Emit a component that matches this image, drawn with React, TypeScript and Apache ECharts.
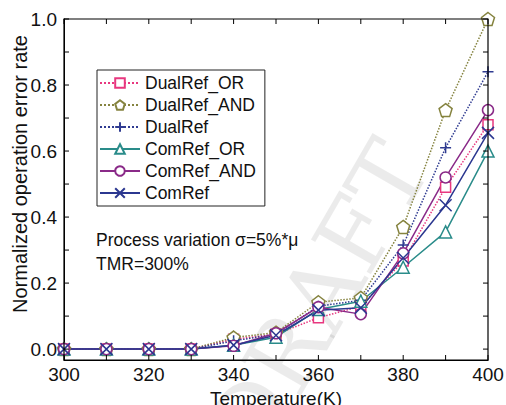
import React, { useEffect, useRef } from "react";
import * as echarts from "echarts";

const temps = [300, 310, 320, 330, 340, 350, 360, 370, 380, 390, 400];
const dualRefOR = [0, 0, 0, 0, 0.03, 0.045, 0.095, 0.13, 0.267, 0.49, 0.68];
const dualRefAND = [0, 0, 0, 0, 0.035, 0.05, 0.142, 0.155, 0.37, 0.724, 1.0];
const dualRef = [0, 0, 0, 0, 0.025, 0.045, 0.13, 0.148, 0.315, 0.61, 0.84];
const comRefOR = [0, 0, 0, 0, 0.012, 0.036, 0.12, 0.145, 0.248, 0.355, 0.6];
const comRefAND = [0, 0, 0, 0, 0.01, 0.048, 0.127, 0.106, 0.29, 0.52, 0.724];
const comRef = [0, 0, 0, 0, 0.012, 0.042, 0.118, 0.125, 0.276, 0.436, 0.655];

const xTickValues = [300, 310, 320, 330, 340, 350, 360, 370, 380, 390, 400];
const yTicks = [0, 0.2, 0.4, 0.6, 0.8, 1.0];
const yMinorTicks = [0, 0.1, 0.2, 0.3, 0.4, 0.5, 0.6, 0.7, 0.8, 0.9, 1.0];

const X_MIN = 300;
const X_MAX = 400;
const Y_MIN = -0.033;
const Y_MAX = 1.0;

const FONT = "Liberation Sans, Arial, sans-serif";

const PENTAGON = "path://M0,-10 L9.51,-3.09 L5.88,8.09 L-5.88,8.09 L-9.51,-3.09 Z";
const PLUS = "path://M-10,0 L10,0 M0,-10 L0,10";
const CROSS = "path://M-10,-10 L10,10 M-10,10 L10,-10";

const TICK_LEN = 5;
const tickStyle = () => ({ stroke: "#000", lineWidth: 1 });

export default function App() {
  const ref = useRef<HTMLDivElement>(null);
  useEffect(() => {
    if (!ref.current) return;
    const chart = echarts.init(ref.current, null, { renderer: "svg" });
    const mk = (
      name: string,
      vals: number[],
      color: string,
      symbol: string,
      size: number,
      dotted: boolean,
      fill: string
    ) => ({
      name,
      type: "line",
      data: temps.map((t, i) => [t, vals[i]]),
      symbol,
      symbolSize: size,
      showAllSymbol: true,
      lineStyle: { color, width: 1.5, type: dotted ? "dotted" : "solid" },
      itemStyle: { color: fill, borderColor: color, borderWidth: 1.5 },
      emphasis: { disabled: true },
      z: 3,
    });
    chart.setOption({
      animation: false,
      grid: { left: 64, right: 18, top: 19, bottom: 45, outerBoundsMode: "none" },
      graphic: [
        {
          type: "text",
          x: 318,
          y: 300,
          rotation: Math.PI / 3,
          z: -1,
          silent: true,
          style: {
            text: "DRAFT",
            fontSize: 95,
            fontFamily: "DejaVu Serif, serif",
            fill: "rgba(0,0,0,0.08)",
            align: "center",
            verticalAlign: "middle",
          },
        },
        {
          type: "text",
          x: 20,
          y: 174,
          rotation: Math.PI / 2,
          z: 10,
          style: {
            text: "Normalized operation error rate",
            fontSize: 20,
            fontFamily: FONT,
            fill: "#111",
            align: "center",
            verticalAlign: "middle",
          },
        },
        {
          type: "text",
          left: 96,
          top: 228,
          z: 10,
          style: {
            text: "Process variation σ=5%*μ\nTMR=300%",
            fontSize: 17.5,
            lineHeight: 24,
            fontFamily: FONT,
            fill: "#111",
          },
        },
      ],
      legend: {
        left: 97,
        top: 70,
        orient: "vertical",
        itemWidth: 40,
        itemHeight: 12,
        itemGap: 4,
        padding: [4, 9, 4, 2],
        borderColor: "#222",
        borderWidth: 1,
        backgroundColor: "#fff",
        textStyle: { fontSize: 17.5, fontFamily: FONT, color: "#111" },
        data: ["DualRef_OR", "DualRef_AND", "DualRef", "ComRef_OR", "ComRef_AND", "ComRef"],
      },
      xAxis: {
        type: "value",
        min: X_MIN,
        max: X_MAX,
        interval: 20,
        name: "Temperature(K)",
        nameLocation: "middle",
        nameGap: 22,
        nameTextStyle: { fontSize: 19, fontFamily: FONT, color: "#111" },
        axisLine: { show: true, onZero: false, lineStyle: { color: "#000", width: 1 } },
        splitLine: { show: false },
        axisTick: { show: false },
        axisLabel: { fontSize: 19, fontFamily: FONT, color: "#111", margin: 5 },
      },
      yAxis: {
        type: "value",
        min: Y_MIN,
        max: Y_MAX,
        axisLine: { show: true, onZero: false, lineStyle: { color: "#000", width: 1 } },
        splitLine: { show: false },
        axisTick: { show: false },
        axisLabel: {
          margin: 7,
          customValues: yTicks,
          formatter: (v: number) => "{a|" + v.toFixed(1) + "}",
          rich: { a: { fontSize: 19, fontFamily: FONT, color: "#111" } },
        },
      },
      series: [
        mk("DualRef_OR", dualRefOR, "#e8377f", "rect", 10, true, "#fff"),
        mk("DualRef_AND", dualRefAND, "#85833f", PENTAGON, 13, true, "#fff"),
        mk("DualRef", dualRef, "#2f3b91", PLUS, 11, true, "none"),
        mk("ComRef_OR", comRefOR, "#2a8c8a", "triangle", 12, false, "#fff"),
        mk("ComRef_AND", comRefAND, "#8a2a88", "circle", 11, false, "#fff"),
        mk("ComRef", comRef, "#2b3790", CROSS, 12, false, "none"),
        {
          name: "frame",
          type: "custom",
          silent: true,
          clip: false,
          z: 5,
          data: [[X_MIN, Y_MIN]],
          renderItem: (_p: any, api: any) => {
            const a = api.coord([X_MIN, Y_MAX]);
            const b = api.coord([X_MAX, Y_MIN]);
            return {
              type: "rect",
              shape: { x: a[0], y: a[1], width: b[0] - a[0], height: b[1] - a[1] },
              style: { fill: "none", stroke: "#000", lineWidth: 1.2 },
            };
          },
        },
        {
          name: "xticks",
          type: "custom",
          silent: true,
          clip: false,
          z: 5,
          data: xTickValues.map((v) => [v, Y_MIN]),
          renderItem: (_p: any, api: any) => {
            const v = api.value(0);
            const pb = api.coord([v, Y_MIN]);
            const pt = api.coord([v, Y_MAX]);
            return {
              type: "group",
              children: [
                { type: "line", shape: { x1: pb[0], y1: pb[1], x2: pb[0], y2: pb[1] - TICK_LEN }, style: tickStyle() },
                { type: "line", shape: { x1: pt[0], y1: pt[1], x2: pt[0], y2: pt[1] + TICK_LEN }, style: tickStyle() },
              ],
            };
          },
        },
        {
          name: "yticks",
          type: "custom",
          silent: true,
          clip: false,
          z: 5,
          data: yMinorTicks.map((v) => [X_MIN, v]),
          renderItem: (_p: any, api: any) => {
            const v = api.value(1);
            const pl = api.coord([X_MIN, v]);
            const pr = api.coord([X_MAX, v]);
            return {
              type: "group",
              children: [
                { type: "line", shape: { x1: pl[0], y1: pl[1], x2: pl[0] + TICK_LEN, y2: pl[1] }, style: tickStyle() },
                { type: "line", shape: { x1: pr[0], y1: pr[1], x2: pr[0] - TICK_LEN, y2: pr[1] }, style: tickStyle() },
              ],
            };
          },
        },
      ],
    });
    return () => chart.dispose();
  }, []);
  return (
    <div
      ref={ref}
      style={{ position: "fixed", left: 0, top: 0, width: 506, height: 405, background: "#fff" }}
    />
  );
}
